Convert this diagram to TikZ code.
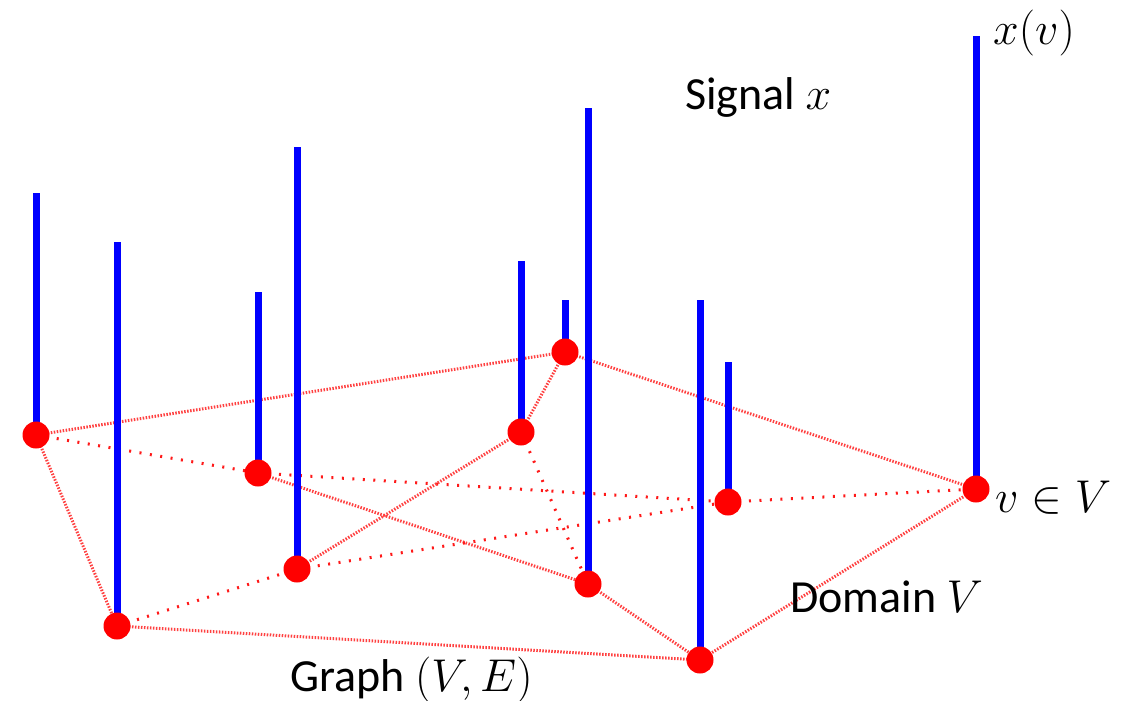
\RequirePackage{fix-cm}
\documentclass[tikz,border=0pt]{standalone}
\usepackage{fontspec}
\setmainfont{Carlito}
\usetikzlibrary{backgrounds}
\begin{document}
\begin{tikzpicture}[x=1pt,y=-1pt,
  vert/.style={circle,fill=red,inner sep=0pt,minimum size=27pt},
  stem/.style={draw=blue,line width=7pt},
  fine/.style={draw=red!75,line width=3pt,dash pattern=on 1.5pt off 1.5pt},
  sparse/.style={draw=red!90,line width=3pt,dash pattern=on 2pt off 8.5pt},
  lbl/.style={font=\fontsize{46}{50}\selectfont,inner sep=0pt}]
\useasboundingbox (0,0) rectangle (1125,701);

\node[vert] (A) at (36,435) {};
\node[vert] (B) at (117,626) {};
\node[vert] (C) at (258,473) {};
\node[vert] (D) at (297,569) {};
\node[vert] (E) at (521,432) {};
\node[vert] (F) at (565,352) {};
\node[vert] (G) at (588,584) {};
\node[vert] (H) at (700,660) {};
\node[vert] (I) at (728,502) {};
\node[vert] (J) at (976,489) {};

\coordinate (At) at (36,193);
\coordinate (Bt) at (117,242);
\coordinate (Ct) at (258,292);
\coordinate (Dt) at (297,147);
\coordinate (Et) at (521,261);
\coordinate (Ft) at (565,300);
\coordinate (Gt) at (588,108);
\coordinate (Ht) at (700,300);
\coordinate (It) at (728,362);
\coordinate (Jt) at (976,36);

\begin{pgfonlayer}{background}
\draw[fine] (A.center) -- (F.center);
\draw[fine] (A.center) -- (B.center);
\draw[sparse] (A.center) -- (C.center);
\draw[sparse] (C.center) -- (I.center);
\draw[fine] (C.center) -- (G.center);
\draw[sparse] (B.center) -- (D.center);
\draw[fine] (B.center) -- (H.center);
\draw[fine] (D.center) -- (E.center);
\draw[sparse] (D.center) -- (I.center);
\draw[fine] (E.center) -- (F.center);
\draw[sparse] (E.center) -- (G.center);
\draw[fine] (F.center) -- (J.center);
\draw[sparse] (I.center) -- (J.center);
\draw[fine] (J.center) -- (H.center);
\draw[fine] (G.center) -- (H.center);

\draw[stem] (A.center) -- (At);
\draw[stem] (B.center) -- (Bt);
\draw[stem] (C.center) -- (Ct);
\draw[stem] (D.center) -- (Dt);
\draw[stem] (E.center) -- (Et);
\draw[stem] (F.center) -- (Ft);
\draw[stem] (G.center) -- (Gt);
\draw[stem] (H.center) -- (Ht);
\draw[stem] (I.center) -- (It);
\draw[stem] (J.center) -- (Jt);
\end{pgfonlayer}

\node[lbl,anchor=base west] (sig) at (685,110) {Signal $x$};
\node[lbl,anchor=base west] (xv) at (993,45) {$x(v)$};
\node[lbl,anchor=base west] (vin) at (995,512) {$v\in V$};
\node[lbl,anchor=base west] (dom) at (790,612) {Domain $V$};
\node[lbl,anchor=base west] (gr) at (290,691) {Graph $(V,E)$};
\end{tikzpicture}
\end{document}
